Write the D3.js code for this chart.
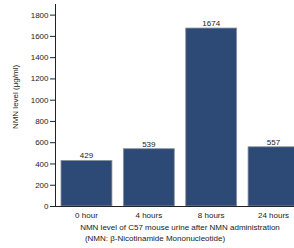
<!DOCTYPE html>
<html>
<head>
<meta charset="utf-8">
<script src="https://cdn.jsdelivr.net/npm/d3@7"></script>
<style>
  body { margin: 0; background: #fff; }
  text { font-family: "Liberation Sans", Arial, sans-serif; fill: #222; }
</style>
</head>
<body>
<div id="chart"></div>
<script>
// NMN level in C57 mouse urine
var times = ['0 hour', '4 hours', '8 hours', '24 hours'];
var nmnLevels = [429, 539, 1674, 557];
var yTicks = [0, 200, 400, 600, 800, 1000, 1200, 1400, 1600, 1800];
var xTitleLines = ['NMN level of C57 mouse urine after NMN administration',
                   '(NMN: \u03b2-Nicotinamide Mononucleotide)'];
var yTitle = 'NMN level (\u03bcg/ml)';

(function () {

    var width = 294, height = 248;
    var plotLeft = 55, plotBottom = 206, plotTop = 4;

    var svg = d3.select('#chart')
        .append('svg')
        .attr('width', width)
        .attr('height', height);

    var xScale = d3.scaleBand()
        .domain(times)
        .range([plotLeft, 305])
        .paddingInner(0.183)
        .paddingOuter(0.096);

    var yScale = d3.scaleLinear()
        .domain([0, 1900])
        .range([plotBottom, plotTop]);

    // bars
    svg.selectAll('.bar')
        .data(nmnLevels)
        .enter()
        .append('rect')
        .attr('class', 'bar')
        .attr('x', (d, i) => xScale(times[i]))
        .attr('y', d => yScale(d))
        .attr('width', xScale.bandwidth())
        .attr('height', d => plotBottom - yScale(d))
        .attr('fill', '#2d4a76')
        .attr('stroke', '#8c929c')
        .attr('stroke-width', 0.8);

    // value labels
    svg.selectAll('.val')
        .data(nmnLevels)
        .enter()
        .append('text')
        .attr('class', 'val')
        .attr('x', (d, i) => xScale(times[i]) + xScale.bandwidth() / 2)
        .attr('y', d => yScale(d) - 2)
        .attr('text-anchor', 'middle')
        .attr('font-size', 8)
        .text(d => d);

    // y axis
    var yAxis = svg.append('g')
        .attr('transform', 'translate(' + plotLeft + ',0)')
        .call(d3.axisLeft(yScale).tickValues(yTicks).tickFormat(d3.format('d')).tickSize(5).tickPadding(1.5));
    yAxis.select('.domain').attr('d', 'M0.5,' + plotTop + 'V' + (plotBottom + 0.5)).attr('stroke', '#222');
    yAxis.selectAll('.tick line').attr('stroke', '#222');
    yAxis.selectAll('.tick text').attr('font-size', 8).style('font-family', '"Liberation Sans", Arial, sans-serif').attr('fill', '#222');

    // x axis (baseline + labels, no ticks)
    var xAxis = svg.append('g')
        .attr('transform', 'translate(0,' + plotBottom + ')')
        .call(d3.axisBottom(xScale).tickSize(0).tickPadding(6));
    xAxis.select('.domain').attr('d', 'M' + plotLeft + ',0.5H' + width).attr('stroke', '#222');
    xAxis.selectAll('.tick text').attr('font-size', 8).style('font-family', '"Liberation Sans", Arial, sans-serif').attr('fill', '#222');

    // axis titles
    svg.append('text')
        .attr('x', 180)
        .attr('y', 230)
        .attr('text-anchor', 'middle')
        .attr('font-size', 8)
        .text(xTitleLines[0]);

    svg.append('text')
        .attr('x', 155)
        .attr('y', 241)
        .attr('text-anchor', 'middle')
        .attr('font-size', 8)
        .text(xTitleLines[1]);

    svg.append('text')
        .attr('transform', 'rotate(-90)')
        .attr('x', -97)
        .attr('y', 18)
        .attr('text-anchor', 'middle')
        .attr('font-size', 8)
        .text(yTitle);

})();
</script>
</body>
</html>
